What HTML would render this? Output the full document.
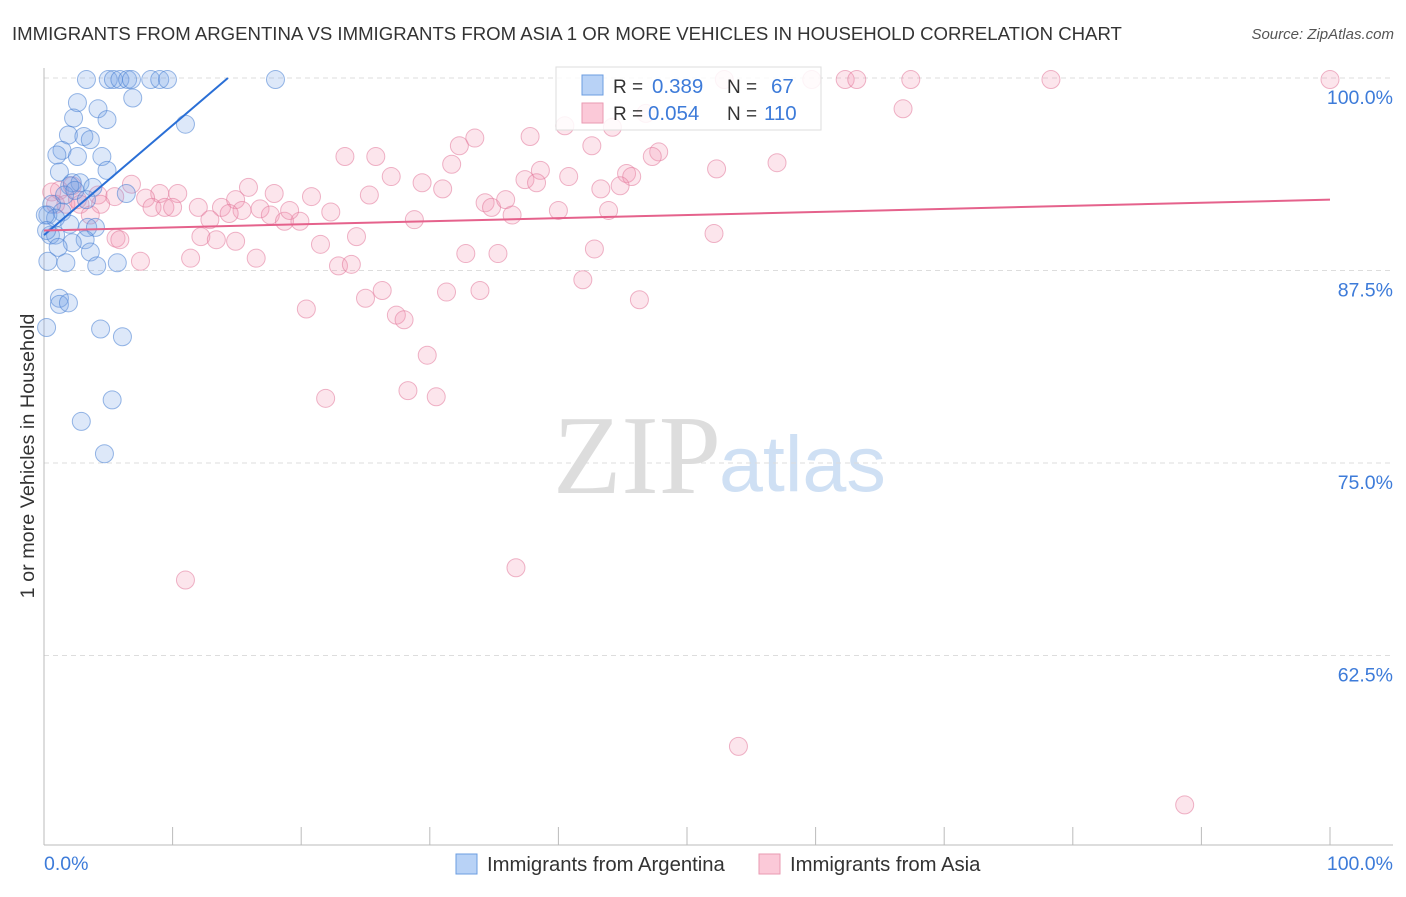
<!DOCTYPE html>
<html><head><meta charset="utf-8"><style>
body{margin:0;background:#fff;font-family:"Liberation Sans",sans-serif}
</style></head><body>
<svg width="1406" height="892" xmlns="http://www.w3.org/2000/svg" id="chart">
<text x="12" y="40" font-size="18.6" fill="#333">IMMIGRANTS FROM ARGENTINA VS IMMIGRANTS FROM ASIA 1 OR MORE VEHICLES IN HOUSEHOLD CORRELATION CHART</text>
<text x="1394" y="39" font-size="15" fill="#555" font-style="italic" text-anchor="end">Source: ZipAtlas.com</text>
<g><text x="553" y="493" font-family="Liberation Serif,serif" font-size="112" fill="#ddd">ZIP</text><text x="719" y="491" font-size="79" fill="#cfe0f4">atlas</text></g>
<g id="grid"></g>
<g id="axes"></g>
<g id="pts"></g>
<g id="lines"></g>
<text transform="translate(34,456) rotate(-90)" font-size="19.8" fill="#333" text-anchor="middle">1 or more Vehicles in Household</text>
<text x="44" y="870" font-size="19.5" fill="#3d7bd9">0.0%</text>
<text x="1393" y="870" font-size="19.5" fill="#3d7bd9" text-anchor="end">100.0%</text>
<g>
<rect x="556" y="67" width="265" height="63" fill="#fff" fill-opacity="0.85" stroke="#ddd"/>
<rect x="582" y="75" width="21" height="20" fill="#b8d2f6" stroke="#6b9de0"/>
<rect x="582" y="103" width="21" height="20" fill="#fbc9d8" stroke="#ea9ab2"/>
<text x="613" y="93" font-size="19" fill="#333">R = </text><text x="652" y="93" font-size="20.5" fill="#3d7bd9">0.389</text>
<text x="727" y="93" font-size="19" fill="#333">N = </text><text x="771" y="93" font-size="20.5" fill="#3d7bd9">67</text>
<text x="613" y="120" font-size="19" fill="#333">R = </text><text x="648" y="120" font-size="20.5" fill="#3d7bd9">0.054</text>
<text x="727" y="120" font-size="19" fill="#333">N = </text><text x="764" y="120" font-size="20.5" fill="#3d7bd9">110</text>
</g>
<g><rect x="456" y="854" width="21" height="20" fill="#b8d2f6" stroke="#6b9de0"/><text x="487" y="871" font-size="20.3" fill="#333">Immigrants from Argentina</text></g>
<g><rect x="759" y="854" width="21" height="20" fill="#fbc9d8" stroke="#ea9ab2"/><text x="790" y="871" font-size="20.3" fill="#333">Immigrants from Asia</text></g>
</svg>
<script>
const yTicks=[100,87.5,75,62.5];
const yTickLabels=["100.0%","87.5%","75.0%","62.5%"];
const argX=[3.3,5.0,5.4,5.9,6.5,6.8,8.3,9.0,9.6,18.0,6.9,2.6,4.2,4.9,2.3,11.0,1.9,3.1,3.6,1.4,1.0,2.6,4.5,4.9,1.2,2.2,2.8,3.8,6.4,2.0,0.6,1.4,0.3,0.9,2.0,3.4,4.0,0.5,0.9,3.2,2.2,1.1,3.6,0.3,1.7,4.1,5.7,1.2,1.2,1.9,0.2,4.4,6.1,5.3,2.9,4.7,0.1,0.2,1.6,2.4,3.3];
const argY=[99.9,99.9,99.9,99.9,99.9,99.9,99.9,99.9,99.9,99.9,98.7,98.4,98.0,97.3,97.4,97.0,96.3,96.2,96.0,95.3,95.0,94.9,94.9,94.0,93.9,93.2,93.2,92.9,92.5,93.0,91.8,91.3,91.1,90.9,90.5,90.3,90.3,89.8,89.8,89.5,89.3,89.0,88.7,88.1,88.0,87.8,88.0,85.7,85.3,85.4,83.8,83.7,83.2,79.1,77.7,75.6,91.1,90.1,92.4,92.7,92.1];
const asiaX=[52.9,59.7,62.3,63.2,67.4,78.3,100,66.8,46.8,40.5,44.2,33.5,37.8,32.3,42.6,47.8,47.3,23.4,25.8,31.7,38.6,57.0,52.3,27.0,37.4,38.3,40.8,45.3,45.7,44.8,43.3,31.0,29.4,25.3,15.9,17.9,20.8,6.8,10.4,9.0,7.9,5.5,4.2,2.2,1.2,0.6,2.6,1.7,4.4,8.4,9.4,12.0,13.8,14.9,15.4,16.8,17.6,18.7,19.9,19.1,22.3,28.8,34.3,34.8,35.9,36.4,40.0,43.9,14.4,12.9,10.0,5.6,5.9,12.2,13.4,14.9,16.5,11.4,7.5,21.5,24.3,32.8,35.3,42.8,52.1,22.9,23.9,25.0,26.3,31.3,33.9,41.9,46.3,20.4,27.4,28.0,29.8,21.9,28.3,30.5,11.0,36.7,54.0,88.7,2.8,0.9,3.6];
const asiaY=[99.9,99.9,99.9,99.9,99.9,99.9,99.9,98.0,97.7,96.9,96.8,96.1,96.2,95.6,95.6,95.2,94.9,94.9,94.9,94.4,94.0,94.5,94.1,93.6,93.4,93.2,93.6,93.8,93.6,93.0,92.8,92.8,93.2,92.4,92.9,92.5,92.3,93.1,92.5,92.5,92.2,92.3,92.4,93.0,92.7,92.6,92.1,91.8,91.8,91.6,91.6,91.6,91.6,92.1,91.4,91.5,91.1,90.7,90.7,91.4,91.3,90.8,91.9,91.6,92.1,91.1,91.4,91.4,91.2,90.8,91.6,89.6,89.5,89.7,89.5,89.4,88.3,88.3,88.1,89.2,89.7,88.6,88.6,88.9,89.9,87.8,87.9,85.7,86.2,86.1,86.2,86.9,85.6,85.0,84.6,84.3,82.0,79.2,79.7,79.3,67.4,68.2,56.6,52.8,91.8,91.8,91.1];
const argTrend=[[0,89.8],[14.3,100]];
const asiaTrend=[[0,90.1],[100,92.1]];
const NS="http://www.w3.org/2000/svg";
const X=v=>44+v*12.86, Y=v=>78+(100-v)*15.4;
function mk(t,a,p){const e=document.createElementNS(NS,t);for(const k in a)e.setAttribute(k,a[k]);p.appendChild(e);return e;}
const grid=document.getElementById('grid'),axes=document.getElementById('axes'),pts=document.getElementById('pts'),lines=document.getElementById('lines');
yTicks.forEach((t,i)=>{
 const l=mk('line',{x1:44,x2:1393,y1:Y(t),y2:Y(t),stroke:'#ddd','stroke-dasharray':'5,4'},grid);
 
 
 const tx=mk('text',{x:1393,y:Y(t)+26,'font-size':19.5,fill:'#3d7bd9','text-anchor':'end'},grid);
 tx.textContent=yTickLabels[i];
 
 
});
mk('line',{x1:44,x2:44,y1:68,y2:845,stroke:'#bbb'},axes);
mk('line',{x1:44,x2:1393,y1:845,y2:845,stroke:'#bbb'},axes);
for(let i=0;i<=10;i++){const t=mk('line',{x1:X(i*10),x2:X(i*10),y1:827,y2:845,stroke:'#bbb'},axes);
 
 }
function dots(xs,ys,fill,stroke,name){xs.forEach((x,i)=>{const c=mk('circle',{cx:X(x),cy:Y(ys[i]),r:9,fill:fill,stroke:stroke,'stroke-width':1},pts);
 
 });}
dots(asiaX,asiaY,'rgba(242,150,180,0.25)','rgba(226,120,155,0.55)','asia-point');
dots(argX,argY,'rgba(120,165,230,0.25)','rgba(70,125,210,0.55)','argentina-point');
const l1=mk('line',{x1:X(argTrend[0][0]),y1:Y(argTrend[0][1]),x2:X(argTrend[1][0]),y2:Y(argTrend[1][1]),stroke:'#2a6fd6','stroke-width':2},lines);


const l2=mk('line',{x1:X(asiaTrend[0][0]),y1:Y(asiaTrend[0][1]),x2:X(asiaTrend[1][0]),y2:Y(asiaTrend[1][1]),stroke:'#e5628c','stroke-width':2},lines);


</script>
</body></html>
